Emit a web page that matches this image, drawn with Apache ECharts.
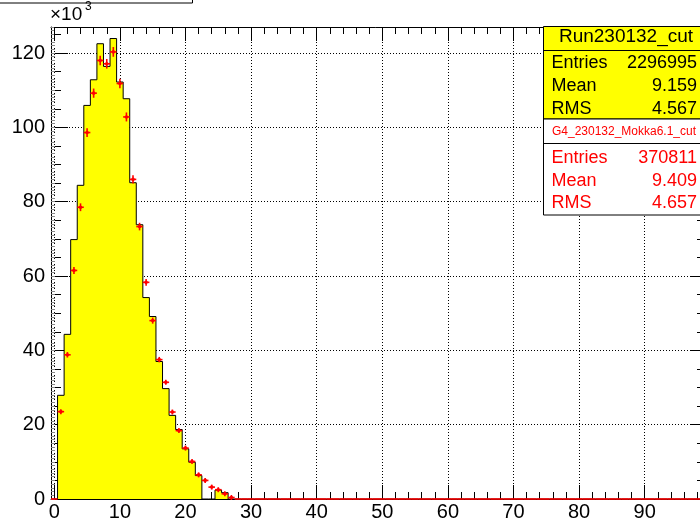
<!DOCTYPE html>
<html>
<head>
<meta charset="utf-8">
<script src="https://cdn.jsdelivr.net/npm/echarts@6/dist/echarts.min.js"></script>
<style>
  html, body { margin: 0; padding: 0; background: #fff; }
  #chart { width: 700px; height: 521px; }
</style>
</head>
<body>
<div id="chart"></div>
<script>
// Binning: 100 bins of width 1, centred on 0..99
const binLow = -0.5;
const binWidth = 1;
const nBins = 100;

// Run230132_cut, counts per bin (x10^3)
const dataCounts = [
  0, 27.9, 44.3, 69.8, 84.4, 105.9, 112.8, 122.5, 116.4, 123.9,
  112.2, 107.7, 85.1, 73.8, 54.2, 49.1, 37.0, 29.7, 22.5, 18.7,
  13.5, 9.9, 6.3, 0, 0, 2.4, 1.7, 0, 0, 0,
  0, 0, 0, 0, 0, 0, 0, 0, 0, 0,
  0, 0, 0, 0, 0, 0, 0, 0, 0, 0,
  0, 0, 0, 0, 0, 0, 0, 0, 0, 0,
  0, 0, 0, 0, 0, 0, 0, 0, 0, 0,
  0, 0, 0, 0, 0, 0, 0, 0, 0, 0,
  0, 0, 0, 0, 0, 0, 0, 0, 0, 0,
  0, 0, 0, 0, 0, 0, 0, 0, 0, 0
];

// G4_230132_Mokka6.1_cut, counts per bin (x10^3)
const mcCounts = [
  0, 23.5, 38.8, 61.5, 78.5, 98.6, 109.2, 118.0, 117.1, 120.3,
  111.8, 102.8, 86.0, 73.3, 58.3, 48.0, 37.5, 31.4, 23.4, 18.4,
  13.7, 10.1, 6.5, 5.0, 3.2, 2.5, 1.4, 0.4, 0, 0,
  0, 0, 0, 0, 0, 0, 0, 0, 0, 0,
  0, 0, 0, 0, 0, 0, 0, 0, 0, 0,
  0, 0, 0, 0, 0, 0, 0, 0, 0, 0,
  0, 0, 0, 0, 0, 0, 0, 0, 0, 0,
  0, 0, 0, 0, 0, 0, 0, 0, 0, 0,
  0, 0, 0, 0, 0, 0, 0, 0, 0, 0,
  0, 0, 0, 0, 0, 0, 0, 0, 0, 0
];

// Statistical errors of the simulated counts (x10^3)
const mcErrors = [
  0, 0.58, 0.74, 0.93, 1.05, 1.18, 1.24, 1.29, 1.29, 1.31,
  1.26, 1.21, 1.10, 1.02, 0.91, 0.82, 0.73, 0.67, 0.58, 0.51,
  0.44, 0.38, 0.30, 0.27, 0.21, 0.19, 0.14, 0.08, 0, 0,
  0, 0, 0, 0, 0, 0, 0, 0, 0, 0,
  0, 0, 0, 0, 0, 0, 0, 0, 0, 0,
  0, 0, 0, 0, 0, 0, 0, 0, 0, 0,
  0, 0, 0, 0, 0, 0, 0, 0, 0, 0,
  0, 0, 0, 0, 0, 0, 0, 0, 0, 0,
  0, 0, 0, 0, 0, 0, 0, 0, 0, 0,
  0, 0, 0, 0, 0, 0, 0, 0, 0, 0
];

// Axis tick labels
const xTickLabels = [0, 10, 20, 30, 40, 50, 60, 70, 80, 90];
const yTickLabels = [0, 20, 40, 60, 80, 100, 120];
const yMax = 127;

// Stats boxes
const dataStats = { name: 'Run230132_cut', entries: '2296995', mean: '9.159', rms: '4.567' };
const mcStats = { name: 'G4_230132_Mokka6.1_cut', entries: '370811', mean: '9.409', rms: '4.657' };

// ---- derived tables ----
const xMin = binLow;
const xMax = binLow + nBins * binWidth;
const stepEdges = [];
for (let i = 0; i < nBins; i++) stepEdges.push([binLow + i * binWidth, dataCounts[i]]);
stepEdges.push([xMax, dataCounts[nBins - 1]]);

const mcPoints = [];
for (let i = 0; i < nBins; i++) mcPoints.push([binLow + (i + 0.5) * binWidth, mcCounts[i], mcErrors[i]]);

const xMinorTicks = [];
for (let v = 0; v < xMax; v += 2) xMinorTicks.push(v);
const yMidTicks = [];
for (let v = 0; v <= yMax; v += 5) yMidTicks.push(v);
const yFineTicks = [];
for (let v = 0; v <= yMax; v += 1) yFineTicks.push(v);

const FONT = '"Liberation Sans", Arial, Helvetica, sans-serif';

function xAxisDef(position, ticks, len, opts) {
  return Object.assign({
    type: 'value', position: position, min: xMin, max: xMax,
    axisLine: { show: false, onZero: false },
    axisTick: { show: true, inside: true, length: len, customValues: ticks,
                lineStyle: { color: '#000', width: 1 } },
    axisLabel: { show: false },
    splitLine: { show: false }
  }, opts || {});
}
function yAxisDef(position, ticks, len, color, opts) {
  return Object.assign({
    type: 'value', position: position, min: 0, max: yMax,
    axisLine: { show: false, onZero: false },
    axisTick: { show: true, inside: true, length: len, customValues: ticks,
                lineStyle: { color: color, width: 1 } },
    axisLabel: { show: false },
    splitLine: { show: false }
  }, opts || {});
}

const chart = echarts.init(document.getElementById('chart'), null, { renderer: 'canvas' });

const option = {
  animation: false,
  backgroundColor: '#fff',
  grid: { left: 51, top: 27, right: -7, bottom: 22, outerBoundsMode: 'none', containLabel: false },
  xAxis: [
    xAxisDef('bottom', xTickLabels, 14, {
      axisLine: { show: true, onZero: false, lineStyle: { color: '#000', width: 1 } },
      axisLabel: { show: true, customValues: xTickLabels, fontSize: 20, fontFamily: FONT,
                   color: '#000', margin: 3 },
      splitLine: { show: true, lineStyle: { color: '#000', width: 1, type: [1, 2] } }
    }),
    xAxisDef('bottom', xMinorTicks, 7),
    xAxisDef('top', xTickLabels, 14, {
      axisLine: { show: true, onZero: false, lineStyle: { color: '#000', width: 1 } }
    }),
    xAxisDef('top', xMinorTicks, 7)
  ],
  yAxis: [
    yAxisDef('left', yTickLabels, 17, '#000', {
      axisLine: { show: true, onZero: false, lineStyle: { color: '#000', width: 1 } },
      axisLabel: { show: true, customValues: yTickLabels, fontSize: 20, fontFamily: FONT,
                   color: '#000', margin: 6 },
      splitLine: { show: true, lineStyle: { color: '#000', width: 1, type: [1, 2] } }
    }),
    yAxisDef('left', yMidTicks, 10, '#000'),
    yAxisDef('left', yFineTicks, 4, '#888'),
    yAxisDef('right', yTickLabels, 17, '#000', {
      axisLine: { show: true, onZero: false, lineStyle: { color: '#000', width: 1 } }
    }),
    yAxisDef('right', yMidTicks, 10, '#000'),
    yAxisDef('right', yFineTicks, 4, '#888')
  ],
  series: [
    {
      name: dataStats.name,
      type: 'line',
      step: 'end',
      xAxisIndex: 0, yAxisIndex: 0,
      data: stepEdges,
      symbol: 'none',
      lineStyle: { color: '#000', width: 1 },
      areaStyle: { color: '#ffff00', opacity: 1, origin: 0 },
      z: 2
    },
    {
      name: mcStats.name,
      type: 'custom',
      xAxisIndex: 0, yAxisIndex: 0,
      data: mcPoints,
      z: 3,
      renderItem: function (params, api) {
        const x = api.value(0), v = api.value(1), e = api.value(2);
        const l = api.coord([x - binWidth / 2, v]);
        const r = api.coord([x + binWidth / 2, v]);
        const c = api.coord([x, v]);
        const red = '#ff0000';
        const children = [{
          type: 'line',
          shape: { x1: l[0], y1: l[1], x2: r[0], y2: r[1] },
          style: { stroke: red, lineWidth: 1.6 }
        }];
        if (v > 0) {
          const t = api.coord([x, v + e]);
          const b = api.coord([x, v - e]);
          children.push({
            type: 'line',
            shape: { x1: c[0], y1: Math.min(t[1], c[1] - 2.5), x2: c[0], y2: Math.max(b[1], c[1] + 2.5) },
            style: { stroke: red, lineWidth: 1.6 }
          });
          children.push({
            type: 'circle',
            shape: { cx: c[0], cy: c[1], r: 1.8 },
            style: { fill: red }
          });
        }
        return { type: 'group', children: children };
      }
    }
  ],
  graphic: [
    // histogram title frame at the top left
    { type: 'rect', shape: { x: -2, y: -20, width: 194.5, height: 23 },
      style: { fill: '#fff', stroke: '#000', lineWidth: 1 }, z: 10 },
    // axis exponent
    { type: 'text', x: 50, y: 24, style: { text: '×10', font: '19px ' + FONT, fill: '#000',
      textVerticalAlign: 'bottom' }, z: 10 },
    { type: 'text', x: 85, y: 13, style: { text: '3', font: '12px ' + FONT, fill: '#000',
      textVerticalAlign: 'bottom' }, z: 10 },

    // stats box: data
    { type: 'rect', shape: { x: 543.5, y: 26.5, width: 170, height: 92.5 },
      style: { fill: '#ffff00', stroke: '#000', lineWidth: 1 }, z: 10 },
    { type: 'line', shape: { x1: 543.5, y1: 50.5, x2: 710, y2: 50.5 },
      style: { stroke: '#000', lineWidth: 1 }, z: 11 },
    { type: 'text', x: 626, y: 36.5, style: { text: dataStats.name, font: '19px ' + FONT, fill: '#000',
      textAlign: 'center', textVerticalAlign: 'middle' }, z: 11 },
    { type: 'text', x: 551.5, y: 63, style: { text: 'Entries', font: '18px ' + FONT, fill: '#000',
      textVerticalAlign: 'middle' }, z: 11 },
    { type: 'text', x: 697, y: 63, style: { text: dataStats.entries, font: '18px ' + FONT, fill: '#000',
      textAlign: 'right', textVerticalAlign: 'middle' }, z: 11 },
    { type: 'text', x: 551.5, y: 86.5, style: { text: 'Mean', font: '18px ' + FONT, fill: '#000',
      textVerticalAlign: 'middle' }, z: 11 },
    { type: 'text', x: 697, y: 86.5, style: { text: dataStats.mean, font: '18px ' + FONT, fill: '#000',
      textAlign: 'right', textVerticalAlign: 'middle' }, z: 11 },
    { type: 'text', x: 551.5, y: 109.5, style: { text: 'RMS', font: '18px ' + FONT, fill: '#000',
      textVerticalAlign: 'middle' }, z: 11 },
    { type: 'text', x: 697, y: 109.5, style: { text: dataStats.rms, font: '18px ' + FONT, fill: '#000',
      textAlign: 'right', textVerticalAlign: 'middle' }, z: 11 },

    // stats box: simulation
    { type: 'rect', shape: { x: 543.5, y: 119, width: 170, height: 96 },
      style: { fill: '#fff', stroke: '#000', lineWidth: 1 }, z: 10 },
    { type: 'line', shape: { x1: 543.5, y1: 143.5, x2: 710, y2: 143.5 },
      style: { stroke: '#000', lineWidth: 1 }, z: 11 },
    { type: 'text', x: 624, y: 131.5, style: { text: mcStats.name, font: '12px ' + FONT, fill: '#ff0000',
      textAlign: 'center', textVerticalAlign: 'middle' }, z: 11 },
    { type: 'text', x: 551.5, y: 158, style: { text: 'Entries', font: '18px ' + FONT, fill: '#ff0000',
      textVerticalAlign: 'middle' }, z: 11 },
    { type: 'text', x: 697, y: 158, style: { text: mcStats.entries, font: '18px ' + FONT, fill: '#ff0000',
      textAlign: 'right', textVerticalAlign: 'middle' }, z: 11 },
    { type: 'text', x: 551.5, y: 181, style: { text: 'Mean', font: '18px ' + FONT, fill: '#ff0000',
      textVerticalAlign: 'middle' }, z: 11 },
    { type: 'text', x: 697, y: 181, style: { text: mcStats.mean, font: '18px ' + FONT, fill: '#ff0000',
      textAlign: 'right', textVerticalAlign: 'middle' }, z: 11 },
    { type: 'text', x: 551.5, y: 203.5, style: { text: 'RMS', font: '18px ' + FONT, fill: '#ff0000',
      textVerticalAlign: 'middle' }, z: 11 },
    { type: 'text', x: 697, y: 203.5, style: { text: mcStats.rms, font: '18px ' + FONT, fill: '#ff0000',
      textAlign: 'right', textVerticalAlign: 'middle' }, z: 11 }
  ]
};

chart.setOption(option);
</script>
</body>
</html>
